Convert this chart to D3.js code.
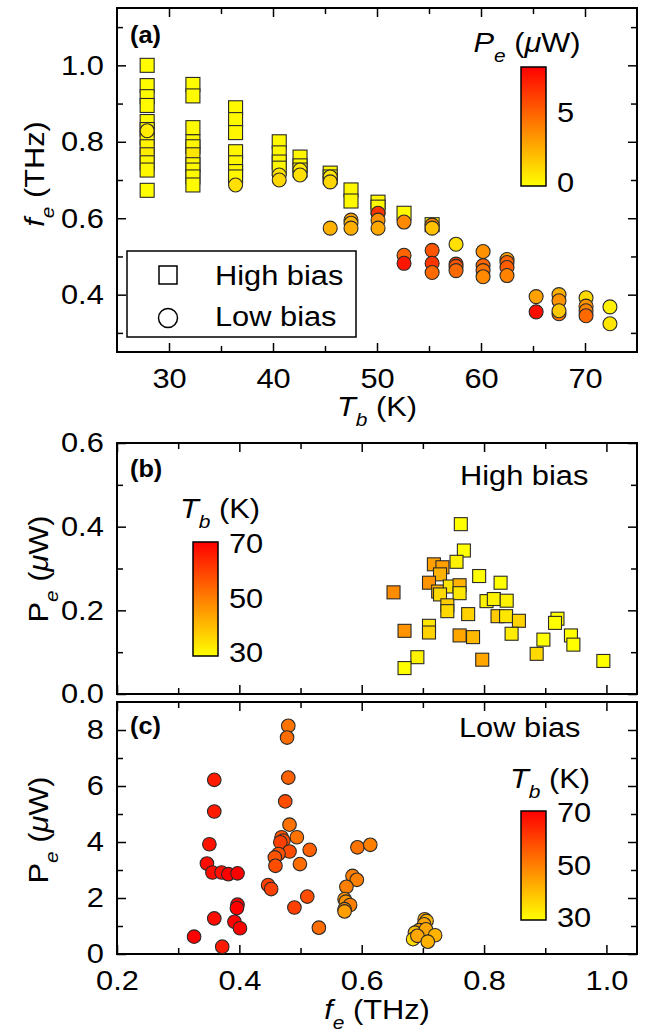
<!DOCTYPE html>
<html><head><meta charset="utf-8">
<script src="https://cdn.jsdelivr.net/npm/d3@7"></script>
<style>body{margin:0;background:#fff}svg{display:block;font-family:"Liberation Sans",Arial,Helvetica,sans-serif}</style>
</head><body><svg id="c" width="649" height="1034"></svg>
<script>
// ---------- Panel (a): f_e vs T_b, colour = P_e ----------
const aHighT = [27.9,27.9,27.9,27.9,27.9,27.9,27.9,27.9,27.9,27.9,27.9,27.9,
  32.3,32.3,32.3,32.3,32.3,32.3,32.3,32.3,32.3,32.3,
  36.4,36.4,36.4,36.4,36.4,36.4,36.4,
  40.6,40.6,40.6,40.6, 42.6,42.6,42.6, 45.5,45.5, 47.5,47.5, 50.1,50.1, 52.6, 55.3];
const aHighF = [1.0,0.947,0.918,0.895,0.853,0.832,0.81,0.787,0.766,0.745,0.726,0.673,
  0.95,0.92,0.837,0.80,0.787,0.766,0.74,0.726,0.708,0.687,
  0.889,0.858,0.824,0.774,0.745,0.722,0.708,
  0.80,0.771,0.747,0.731, 0.76,0.737,0.726, 0.718,0.708, 0.674,0.645, 0.642,0.629, 0.613, 0.583];
const aHighP = [0.08,0.1,0.12,0.15,0.2,0.25,0.3,0.35,0.6,0.3,0.25,0.06,
  0.12,0.15,0.2,0.3,0.35,0.8,0.3,0.25,0.2,0.1,
  0.15,0.2,0.25,0.3,0.3,0.25,0.2,
  0.2,0.25,0.3,0.25, 0.25,0.3,0.3, 0.25,0.3, 0.3,0.2, 0.25,0.2, 0.15, 0.2];

const aLowT = [27.9, 36.4, 40.6,40.6, 42.6,42.6, 45.5,45.5,45.5, 47.5,47.5,47.5,
  50.1,50.1,50.1, 52.6,52.6,52.6, 55.3,55.3,55.3,55.3,55.3,
  57.6,57.6,57.6,57.6, 60.2,60.2,60.2,60.2, 62.5,62.5,62.5,62.5,
  65.3,65.3, 67.5,67.5,67.5,67.5, 70.1,70.1,70.1,70.1, 72.4,72.4];
const aLowF = [0.829, 0.687, 0.713,0.70, 0.726,0.713, 0.708,0.695,0.574, 0.595,0.587,0.574,
  0.613,0.595,0.574, 0.59,0.503,0.482, 0.582,0.574,0.516,0.482,0.458,
  0.532,0.48,0.474,0.463, 0.513,0.476,0.463,0.447, 0.492,0.484,0.471,0.45,
  0.395,0.355, 0.40,0.384,0.35,0.358, 0.392,0.37,0.358,0.345, 0.368,0.324];
const aLowP = [0.6, 1.0, 0.9,1.3, 0.7,1.0, 0.8,1.3,2.5, 3.0,2.4,2.6,
  6.5,3.5,2.8, 3.8,5.0,7.5, 4.0,2.0,5.5,6.5,4.8,
  1.0,6.0,5.5,4.8, 3.5,5.0,4.5,3.8, 3.0,5.0,5.2,4.0,
  3.0,7.8, 2.5,3.5,4.5,1.8, 1.2,3.5,4.0,4.8, 0.5,0.8];

// ---------- Panel (b): high bias, P_e vs f_e, colour = T_b ----------
const bF = [0.762,0.767,0.755,0.718,0.732,0.728,0.71,0.725,0.744,0.76,0.76,0.728,0.74,0.74,0.652,
  0.792,0.827,0.804,0.816,0.837,0.774,0.822,0.836,0.857,0.71,0.71,0.67,0.76,0.782,0.845,
  0.92,0.916,0.897,0.942,0.946,0.886,0.797,0.691,0.67,0.995];
const bP = [0.406,0.343,0.316,0.31,0.303,0.286,0.266,0.245,0.257,0.26,0.241,0.238,0.212,0.198,0.243,
  0.282,0.266,0.222,0.227,0.223,0.191,0.186,0.186,0.175,0.163,0.147,0.151,0.14,0.136,0.144,
  0.18,0.17,0.13,0.14,0.118,0.096,0.082,0.088,0.062,0.079];
const bT = [30,30,32,45,45,42,47,42,34,42,34,36,38,36,48,
  30,30,32,32,32,37,38,34,37,34,37,47,44,41,33,
  30,30,30,30,30,36,44,32,30,30];

// ---------- Panel (c): low bias, P_e vs f_e, colour = T_b ----------
const cF = [0.48,0.478,0.48,0.475,0.482,0.494,0.469,0.472,0.467,0.515,0.482,0.464,0.458,0.499,0.459,
  0.447,0.452,0.511,0.49,0.53,
  0.359,0.359,0.351,0.347,0.356,0.371,0.382,0.397,0.397,0.396,0.359,0.392,0.401,0.326,0.372,
  0.593,0.614,0.585,0.592,0.575,0.572,0.574,0.581,0.572,0.572,
  0.703,0.706,0.702,0.694,0.687,0.705,0.72,0.684,0.691,0.708];
const cP = [8.15,7.73,6.3,5.45,4.62,4.17,4.17,4.05,3.99,3.72,3.66,3.57,3.45,3.21,3.15,
  2.46,2.32,2.05,1.66,0.94,
  6.22,5.09,3.92,3.23,2.91,2.91,2.85,2.88,1.76,1.64,1.27,1.15,0.92,0.62,0.26,
  3.81,3.9,2.79,2.65,2.4,1.96,1.87,1.75,1.6,1.52,
  1.24,1.18,1.06,0.85,0.76,0.88,0.67,0.53,0.65,0.44];
const cT = [52,53,55,58,52,52,57,58,60,55,58,57,57,53,58,
  60,60,58,60,53,
  66,66,67,68,68,68,70,70,70,70,68,70,70,72,66,
  52,50,50,50,50,47,47,50,48,45,
  43,42,44,45,40,44,42,36,44,42];

// ---------- tick values ----------
const aXTicks = [30,40,50,60,70], aXMinor = [35,45,55,65];
const aYTicks = [0.4,0.6,0.8,1.0], aYMinor = [0.3,0.5,0.7,0.9,1.1];
const fTicks = [0.2,0.4,0.6,0.8,1.0], fMinor = [0.3,0.5,0.7,0.9];
const bYTicks = [0.0,0.2,0.4,0.6], bYMinor = [0.1,0.3,0.5];
const cYTicks = [0,2,4,6,8], cYMinor = [1,3,5,7];
const pBarTicks = [0,5], tBarTicks = [30,50,70];

// ---------- setup ----------
const svg = d3.select("#c");
const FS = 28, SX = 1.1;
const L = 117, R = 637;
const colP = d3.scaleLinear().domain([0,8.2]).range(["#ffff00","#ff0000"]).clamp(true);
const colT = d3.scaleLinear().domain([30,70]).range(["#ffff00","#ff0000"]).clamp(true);

const xA = d3.scaleLinear().domain([25,75]).range([L,R]);
const yA = d3.scaleLinear().domain([0.25,1.15]).range([352,8]);
const xF = d3.scaleLinear().domain([0.2,1.05]).range([L,R]);
const yB = d3.scaleLinear().domain([0,0.6]).range([694,443]);
const yC = d3.scaleLinear().domain([0,9]).range([954,702]);

function frame(x, y, minorX, majorX, minorY, majorY, xLabels, yFmt, xFmt) {
  const [x0,x1] = x.range(), [y0,y1] = y.range();
  const g = svg.append("g");
  const mk = (axis, tr) => {
    const a = g.append("g").attr("transform", tr).call(axis);
    a.select(".domain").remove();
    a.selectAll(".tick line").attr("stroke","#000").attr("stroke-width",1.5);
    return a;
  };
  mk(d3.axisBottom(x).tickValues(minorX).tickSizeInner(-6).tickSizeOuter(0).tickFormat(""), `translate(0,${y0})`);
  const xb = mk(d3.axisBottom(x).tickValues(majorX).tickSizeInner(-9).tickSizeOuter(0).tickPadding(16).tickFormat(xLabels ? xFmt : ""), `translate(0,${y0})`);
  mk(d3.axisTop(x).tickValues(minorX).tickSizeInner(-6).tickSizeOuter(0).tickFormat(""), `translate(0,${y1})`);
  mk(d3.axisTop(x).tickValues(majorX).tickSizeInner(-9).tickSizeOuter(0).tickFormat(""), `translate(0,${y1})`);
  mk(d3.axisLeft(y).tickValues(minorY).tickSizeInner(-6).tickSizeOuter(0).tickFormat(""), `translate(${x0},0)`);
  const yl = mk(d3.axisLeft(y).tickValues(majorY).tickSizeInner(-9).tickSizeOuter(0).tickPadding(12).tickFormat(yFmt), `translate(${x0},0)`);
  mk(d3.axisRight(y).tickValues(minorY).tickSizeInner(-6).tickSizeOuter(0).tickFormat(""), `translate(${x1},0)`);
  mk(d3.axisRight(y).tickValues(majorY).tickSizeInner(-9).tickSizeOuter(0).tickFormat(""), `translate(${x1},0)`);
  [xb, yl].forEach(a => a.selectAll("text").attr("fill","#000").style("font-size",FS+"px")
      .style("font-family",'"Liberation Sans",Arial,sans-serif').attr("transform",`scale(${SX},1)`));
  g.append("rect").attr("x",x0).attr("y",y1).attr("width",x1-x0).attr("height",y0-y1)
    .attr("fill","none").attr("stroke","#000").attr("stroke-width",2);
  return g;
}

function label(x, y, parts, opts = {}) {
  const g = svg.append("g").attr("transform", `translate(${x},${y})` + (opts.rot ? " rotate(-90)" : "") + ` scale(${SX},1)`);
  const t = g.append("text").attr("text-anchor", opts.anchor || "start")
    .style("font-size", (opts.size || FS) + "px").attr("fill","#000");
  if (opts.bold) t.style("font-weight","bold");
  let shifted = false;
  parts.forEach(([s, o = {}]) => {
    const ts = t.append("tspan").text(s);
    if (o.italic) ts.style("font-style","italic");
    if (o.sub) { ts.style("font-size","19px").style("font-style","italic").attr("dy", 10); shifted = true; }
    else if (shifted) { ts.attr("dy", -10); shifted = false; }
  });
  return t;
}

function colorbar(id, x, yTop, yBot, scale, ticks) {
  const grad = svg.append("defs").append("linearGradient").attr("id", id)
    .attr("x1",0).attr("y1",1).attr("x2",0).attr("y2",0);
  grad.append("stop").attr("offset","0%").attr("stop-color","#ffff00");
  grad.append("stop").attr("offset","50%").attr("stop-color","#ff8000");
  grad.append("stop").attr("offset","100%").attr("stop-color","#ff0000");
  svg.append("rect").attr("x",x).attr("y",yTop).attr("width",25).attr("height",yBot-yTop)
    .attr("fill",`url(#${id})`).attr("stroke","#000").attr("stroke-width",1.5);
  const a = svg.append("g").attr("transform",`translate(${x+25},0)`)
    .call(d3.axisRight(scale).tickValues(ticks).tickSize(0).tickPadding(10));
  a.select(".domain").remove();
  a.selectAll("text").attr("fill","#000").style("font-size",FS+"px")
    .style("font-family",'"Liberation Sans",Arial,sans-serif').attr("transform",`scale(${SX},1)`);
}

// ---------- Panel (a) ----------
frame(xA, yA, aXMinor, aXTicks, aYMinor, aYTicks, true, d3.format(".1f"), d3.format("d"));
const ha = aHighT.map((t,i) => ({t, f: aHighF[i], p: aHighP[i]}));
const la = aLowT.map((t,i) => ({t, f: aLowF[i], p: aLowP[i]}));
svg.append("g").selectAll("rect").data(ha).join("rect")
  .attr("x", d => xA(d.t) - 7).attr("y", d => yA(d.f) - 7).attr("width",14).attr("height",14)
  .attr("fill", d => colP(d.p)).attr("stroke","#2a2a2a").attr("stroke-width",1.1);
svg.append("g").selectAll("circle").data(la).join("circle")
  .attr("cx", d => xA(d.t)).attr("cy", d => yA(d.f)).attr("r",7)
  .attr("fill", d => colP(d.p)).attr("stroke","#2a2a2a").attr("stroke-width",1.1);
svg.append("rect").attr("x",127).attr("y",251).attr("width",229).attr("height",86)
  .attr("fill","#fff").attr("stroke","#000").attr("stroke-width",1.5);
svg.append("rect").attr("x",159).attr("y",266).attr("width",18).attr("height",18)
  .attr("fill","#fff").attr("stroke","#000").attr("stroke-width",1.5);
svg.append("circle").attr("cx",168).attr("cy",318).attr("r",9.5)
  .attr("fill","#fff").attr("stroke","#000").attr("stroke-width",1.5);
label(215, 285, [["High bias"]]);
label(215, 326, [["Low bias"]]);
label(130, 43, [["(a)"]], {bold:true, size:23});
label(44, 174, [["f",{italic:true}],["e",{sub:true}],[" (THz)"]], {rot:true, anchor:"middle"});
label(377, 416, [["T",{italic:true}],["b",{sub:true}],[" (K)"]], {anchor:"middle"});
label(527, 52, [["P",{italic:true}],["e",{sub:true}],[" ("],["μ",{italic:true}],["W)"]], {anchor:"middle"});
colorbar("gA", 521, 67, 186, d3.scaleLinear().domain([0,8.2]).range([183,67]), pBarTicks);

// ---------- Panel (b) ----------
frame(xF, yB, fMinor, fTicks, bYMinor, bYTicks, false, d3.format(".1f"), d3.format(".1f"));
const bd = bF.map((f,i) => ({f, p: bP[i], t: bT[i]}));
svg.append("g").selectAll("rect").data(bd).join("rect")
  .attr("x", d => xF(d.f) - 6.5).attr("y", d => yB(d.p) - 6.5).attr("width",13).attr("height",13)
  .attr("fill", d => colT(d.t)).attr("stroke","#2a2a2a").attr("stroke-width",1.1);
label(130, 477, [["(b)"]], {bold:true, size:23});
label(460, 485, [["High bias"]]);
label(48, 569, [["P"],["e",{sub:true}],[" ("],["μ",{italic:true}],["W)"]], {rot:true, anchor:"middle"});
label(220, 518, [["T",{italic:true}],["b",{sub:true}],[" (K)"]], {anchor:"middle"});
colorbar("gB", 193, 542, 656, d3.scaleLinear().domain([30,70]).range([653,544]), tBarTicks);

// ---------- Panel (c) ----------
frame(xF, yC, fMinor, fTicks, cYMinor, cYTicks, true, d3.format("d"), d3.format(".1f"));
const cd = cF.map((f,i) => ({f, p: cP[i], t: cT[i]}));
svg.append("g").selectAll("circle").data(cd).join("circle")
  .attr("cx", d => xF(d.f)).attr("cy", d => yC(d.p)).attr("r",6.8)
  .attr("fill", d => colT(d.t)).attr("stroke","#2a2a2a").attr("stroke-width",1.1);
label(130, 734, [["(c)"]], {bold:true, size:23});
label(459, 737, [["Low bias"]]);
label(48, 830, [["P"],["e",{sub:true}],[" ("],["μ",{italic:true}],["W)"]], {rot:true, anchor:"middle"});
label(550, 788, [["T",{italic:true}],["b",{sub:true}],[" (K)"]], {anchor:"middle"});
colorbar("gC", 521, 811, 920, d3.scaleLinear().domain([30,70]).range([918,813]), tBarTicks);
label(377, 1019, [["f",{italic:true}],["e",{sub:true}],[" (THz)"]], {anchor:"middle"});
</script></body></html>
